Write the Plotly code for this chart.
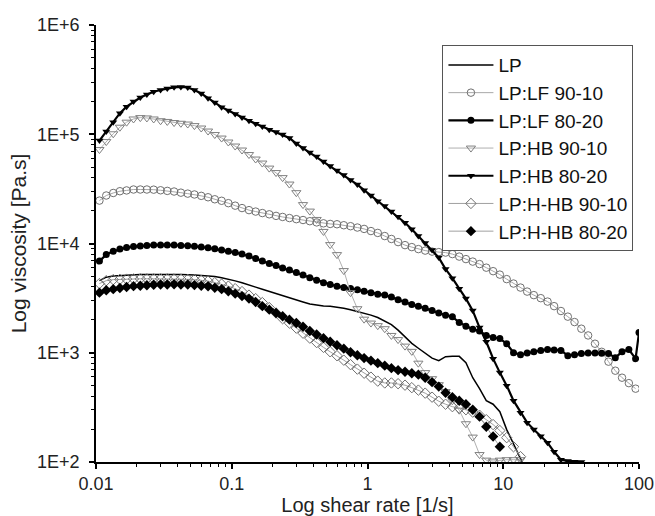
import plotly.graph_objects as go

# Shear rate grid [1/s] (log-spaced measurement points)
shear_rate = [
    0.0106, 0.0119, 0.0134, 0.0150, 0.0168, 0.0189, 0.0212, 0.0237, 0.0266, 0.0299,
    0.0335, 0.0376, 0.0422, 0.0474, 0.0531, 0.0596, 0.0669, 0.0750, 0.0842, 0.0944,
    0.106, 0.119, 0.134, 0.150, 0.168, 0.189, 0.212, 0.237, 0.266, 0.299,
    0.335, 0.376, 0.422, 0.474, 0.531, 0.596, 0.669, 0.750, 0.842, 0.944,
    1.06, 1.19, 1.34, 1.50, 1.68, 1.89, 2.12, 2.37, 2.66, 2.99,
    3.35, 3.76, 4.22, 4.74, 5.31, 5.96, 6.69, 7.50, 8.42, 9.44,
    10.6, 11.9, 13.4, 15.0, 16.8, 18.9, 21.2, 23.7, 26.6, 29.9,
    33.5, 37.6, 42.2, 47.4, 53.1, 59.6, 66.9, 75.0, 84.2, 94.4,
    100.0,
]

# Viscosity [Pa.s]
lp = [
    4570, 4920, 5030, 5080, 5140, 5160, 5190, 5190, 5210, 5220,
    5220, 5210, 5190, 5190, 5160, 5100, 5050, 4980, 4850, 4720,
    4550, 4380, 4210, 3990, 3820, 3640, 3480, 3310, 3160, 3030,
    2920, 2800, 2730, 2680, 2660, 2630, 2560, 2480, 2390, 2310,
    2210, 2100, 1950, 1810, 1610, 1390, 1220, 1100, 991, 893,
    847, 921, 927, 927, 811, 591, 469, 364, 338, 289,
    198, 147, 105, 80,
]
lp_lf_90_10 = [
    24700, 27500, 29000, 30100, 30600, 31200, 31200, 31200, 31100, 30700,
    30300, 29900, 29200, 28600, 28100, 27300, 26500, 25400, 24600, 23400,
    22200, 21100, 20200, 19600, 19000, 18500, 17900, 17500, 17100, 16700,
    16400, 16000, 15600, 15300, 15100, 15000, 14700, 14400, 14000, 13600,
    13000, 12500, 11700, 11000, 10300, 9660, 9270, 8890, 8610, 8430,
    8340, 8260, 8000, 7590, 7200, 6830, 6480, 6010, 5580, 5190,
    4720, 4300, 3950, 3630, 3370, 3160, 2940, 2670, 2410, 2140,
    1910, 1660, 1440, 1210, 1020, 829, 685, 591, 527, 469,
]
lp_lf_80_20 = [
    6900, 7910, 8510, 8890, 9170, 9370, 9510, 9610, 9680, 9700,
    9700, 9670, 9610, 9530, 9450, 9270, 9120, 8930, 8710, 8510,
    8260, 8000, 7670, 7280, 6900, 6550, 6280, 5960, 5710, 5420,
    5140, 4870, 4620, 4380, 4210, 4070, 3960, 3880, 3780, 3660,
    3550, 3440, 3370, 3230, 3060, 2910, 2760, 2670, 2560, 2430,
    2310, 2210, 2140, 1890, 1750, 1640, 1580, 1440, 1380, 1350,
    1210, 1000, 961, 995, 1020, 1050, 1070, 1060, 1050, 940,
    961, 982, 995, 995, 991, 982, 902, 1020, 1070, 883,
    1530,
]
lp_hb_90_10 = [
    72400, 85700, 101000, 116000, 129000, 138000, 142000, 141000, 138000, 133000,
    131000, 128000, 126000, 124000, 120000, 114000, 107000, 99400, 92300, 84900,
    78000, 71700, 65200, 59300, 54500, 49000, 44600, 40100, 35000, 29200,
    22700, 19800, 16600, 12900, 9770, 7910, 5650, 3550, 2530, 2030,
    1870, 1770, 1660, 1440, 1320, 1150, 1030, 803, 658, 579,
    510, 441, 364, 298, 224, 169, 117, 104, 102, 104,
    105, 105, 105,
]
lp_hb_80_20 = [
    87500, 106000, 129000, 156000, 179000, 199000, 217000, 231000, 245000, 254000,
    262000, 269000, 271000, 268000, 254000, 236000, 214000, 195000, 177000, 165000,
    153000, 142000, 133000, 125000, 118000, 110000, 105000, 99300, 92300, 82200,
    74800, 67900, 62500, 56200, 51200, 46600, 42300, 38100, 34600, 30800,
    27500, 24400, 22000, 19600, 17600, 15500, 13500, 11700, 10100, 8700,
    7430, 5830, 4820, 3860, 3130, 2430, 1700, 1260, 883, 658,
    500, 364, 283, 229, 198, 172, 150, 124, 105, 102,
    100.5, 100,
]
lp_hhb_90_10 = [
    4300, 4570, 4670, 4700, 4720, 4740, 4750, 4750, 4750, 4750,
    4750, 4740, 4720, 4700, 4670, 4600, 4530, 4380, 4250, 4070,
    3860, 3630, 3370, 3130, 2880, 2590, 2310, 2050, 1870, 1680,
    1510, 1360, 1240, 1120, 1020, 940, 855, 778, 708, 650,
    598, 550, 529, 529, 521, 505, 479, 455, 427, 392,
    360, 338, 321, 311, 301, 286, 268, 244, 220, 194,
    167, 138, 112,
]
lp_hhb_80_20 = [
    3550, 3730, 3820, 3920, 4000, 4070, 4110, 4150, 4190, 4210,
    4220, 4230, 4220, 4210, 4160, 4110, 4060, 3940, 3820, 3660,
    3480, 3300, 3130, 2910, 2670, 2480, 2310, 2160, 2010, 1870,
    1730, 1580, 1470, 1360, 1260, 1170, 1090, 1010, 950, 893,
    847, 803, 762, 723, 693, 671, 650, 630, 591, 538,
    490, 431, 392, 364, 338, 301, 260, 210, 171, 138,
]

x_tickvals = [0.01, 0.1, 1, 10, 100]
x_ticktext = ["0.01", "0.1", "1", "10", "100"]
y_tickvals = [1e2, 1e3, 1e4, 1e5, 1e6]
y_ticktext = ["1E+2", "1E+3", "1E+4", "1E+5", "1E+6"]

FONT = "Liberation Sans, Arial, sans-serif"

series = [
    ("LP", lp, dict(mode="lines", line=dict(color="black", width=1.5))),
    ("LP:LF 90-10", lp_lf_90_10, dict(mode="lines+markers", line=dict(color="#a8a8a8", width=1),
        marker=dict(symbol="circle-open", size=7.5, color="#707070", line=dict(width=1)))),
    ("LP:LF 80-20", lp_lf_80_20, dict(mode="lines+markers", line=dict(color="black", width=2.2),
        marker=dict(symbol="circle", size=7, color="black"))),
    ("LP:HB 90-10", lp_hb_90_10, dict(mode="lines+markers", line=dict(color="#b0b0b0", width=1),
        marker=dict(symbol="triangle-down-open", size=8, color="#808080", line=dict(width=1)))),
    ("LP:HB 80-20", lp_hb_80_20, dict(mode="lines+markers", line=dict(color="black", width=2.2),
        marker=dict(symbol="triangle-down", size=7, color="black"))),
    ("LP:H-HB 90-10", lp_hhb_90_10, dict(mode="lines+markers", line=dict(color="#a0a0a0", width=1),
        marker=dict(symbol="diamond-open", size=8, color="#707070", line=dict(width=1)))),
    ("LP:H-HB 80-20", lp_hhb_80_20, dict(mode="lines+markers", line=dict(color="#a0a0a0", width=1),
        marker=dict(symbol="diamond", size=8, color="black"))),
]

fig = go.Figure()
for name, vals, style in series:
    fig.add_trace(go.Scatter(x=shear_rate[:len(vals)], y=vals, name=name, **style))

minor_x = [m * 10 ** e for e in range(-2, 2) for m in range(2, 10)]
minor_y = [m * 10 ** e for e in range(2, 6) for m in range(2, 10)]

axis_common = dict(
    type="log", showgrid=False, zeroline=False, showline=True,
    linecolor="black", linewidth=1.5, ticks="outside", ticklen=5, tickwidth=1.5,
    tickcolor="black", tickfont=dict(family=FONT, size=18, color="#222"),
    automargin=False,
)

fig.update_layout(
    width=655, height=516, template="none",
    margin=dict(l=96, r=16, t=25, b=54),
    paper_bgcolor="white", plot_bgcolor="white",
    font=dict(family=FONT, size=18, color="#222"),
    xaxis=dict(range=[-2, 2], tickvals=x_tickvals, ticktext=x_ticktext,
               minor=dict(tickvals=minor_x, ticks="outside", ticklen=3, tickwidth=1, tickcolor="black"),
               title=dict(text="Log shear rate [1/s]", font=dict(family=FONT, size=20, color="#222"), standoff=2),
               **axis_common),
    yaxis=dict(range=[2, 6], tickvals=y_tickvals, ticktext=y_ticktext, ticklabelstandoff=6,
               minor=dict(tickvals=minor_y, ticks="outside", ticklen=3, tickwidth=1, tickcolor="black"),
               title=dict(text="Log viscosity [Pa.s]", font=dict(family=FONT, size=21, color="#222"), standoff=5),
               **axis_common),
    legend=dict(x=0.638, y=0.954, xanchor="left", yanchor="top",
                bordercolor="#555", borderwidth=1, bgcolor="white", itemwidth=45,
                font=dict(family=FONT, size=19, color="#111"), tracegroupgap=0),
    showlegend=True,
)

# remove the page's default body margin so the 655x516 figure fills the window exactly
fig.write_html(
    "out.html",
    config={"displayModeBar": False},
    post_script="document.body.style.margin='0';document.body.style.overflow='hidden';",
)
